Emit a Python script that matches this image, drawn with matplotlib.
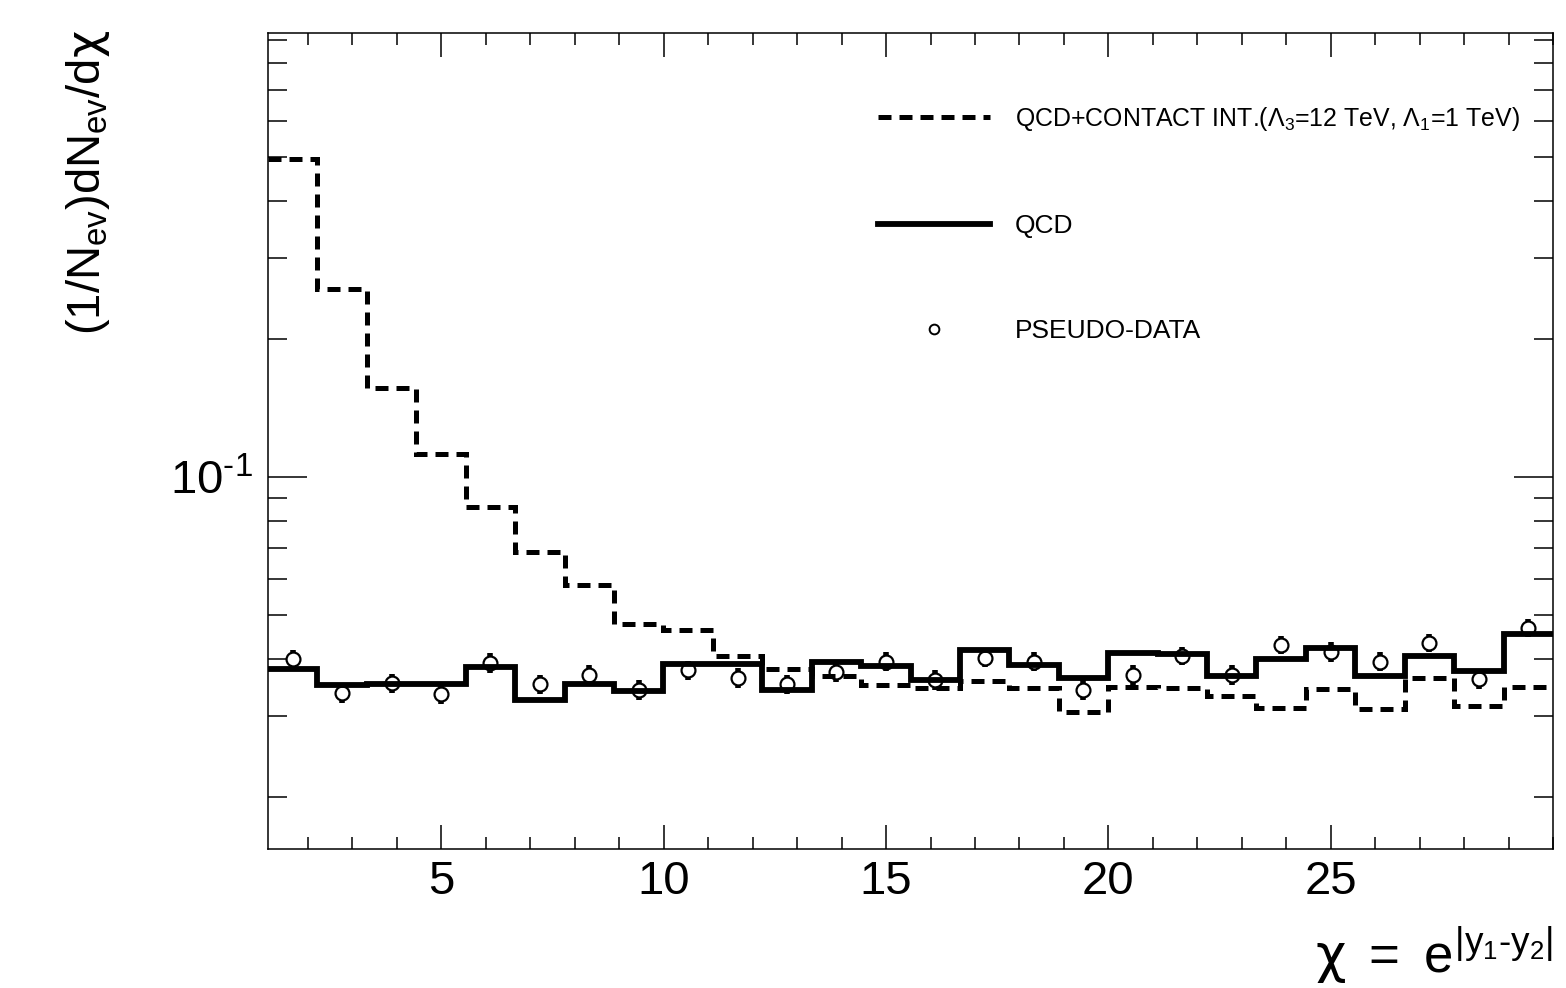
import numpy as np
import matplotlib
matplotlib.use("Agg")
import matplotlib.pyplot as plt
from matplotlib.lines import Line2D
from matplotlib.ticker import MultipleLocator, FixedLocator, FixedFormatter, LogLocator, NullFormatter

plt.rcParams["font.family"] = ["Liberation Sans", "DejaVu Sans"]
plt.rcParams["mathtext.fontset"] = "custom"
plt.rcParams["mathtext.rm"] = "Liberation Sans"
plt.rcParams["mathtext.it"] = "Liberation Sans"
plt.rcParams["mathtext.bf"] = "Liberation Sans:bold"
plt.rcParams["mathtext.sf"] = "DejaVu Sans"

# 26 bins in chi = exp(|y1 - y2|)
chi_edges = [1.100, 2.212, 3.323, 4.435, 5.546, 6.658, 7.769, 8.881, 9.992,
             11.104, 12.215, 13.327, 14.438, 15.550, 16.662, 17.773, 18.885,
             19.996, 21.108, 22.219, 23.331, 24.442, 25.554, 26.665, 27.777,
             28.888, 30.000]

# QCD + contact interaction (dashed)
qcd_ci = [0.495, 0.257, 0.156, 0.112, 0.0860, 0.0686, 0.0581, 0.0478, 0.0463,
          0.0407, 0.0381, 0.0368, 0.0351, 0.0346, 0.0359, 0.0346, 0.0307,
          0.0348, 0.0346, 0.0332, 0.0313, 0.0344, 0.0311, 0.0364, 0.0316,
          0.0348]

# QCD only (solid)
qcd = [0.0381, 0.0351, 0.0353, 0.0353, 0.0385, 0.0326, 0.0353, 0.0341, 0.0390,
       0.0390, 0.0343, 0.0395, 0.0387, 0.0360, 0.0419, 0.0389, 0.0364, 0.0413,
       0.0411, 0.0368, 0.0400, 0.0423, 0.0368, 0.0407, 0.0377, 0.0454]

# pseudo-data
pseudo = [0.0400, 0.0338, 0.0355, 0.0336, 0.0393, 0.0353, 0.0370, 0.0343,
          0.0379, 0.0364, 0.0353, 0.0375, 0.0395, 0.0360, 0.0403, 0.0395,
          0.0343, 0.0370, 0.0407, 0.0370, 0.0430, 0.0415, 0.0395, 0.0434,
          0.0362, 0.0468]
pseudo_err = [0.0019, 0.0017, 0.0017, 0.0017, 0.0019, 0.0017, 0.0018, 0.0017,
              0.0018, 0.0018, 0.0017, 0.0018, 0.0019, 0.0018, 0.0019, 0.0019,
              0.0017, 0.0018, 0.0019, 0.0018, 0.0020, 0.0020, 0.0019, 0.0020,
              0.0018, 0.0021]

edges = np.array(chi_edges)
centers = 0.5 * (edges[:-1] + edges[1:])

fig = plt.figure(figsize=(15.66, 9.88), dpi=100)
ax = fig.add_axes([268 / 1566, 1 - 849 / 988, 1285 / 1566, 816 / 988])

ax.errorbar(centers, pseudo, yerr=pseudo_err, fmt="o", ms=10, mfc="white",
            mec="black", mew=1.6, ecolor="black", elinewidth=4.0, capsize=0,
            zorder=2)
ax.stairs(qcd_ci, edges, baseline=None, color="black", lw=3.6,
          linestyle=(0, (2.6, 1.6)), zorder=3)
ax.stairs(qcd, edges, baseline=None, color="black", lw=4.2, zorder=3)

ax.set_yscale("log")
ax.set_xlim(1.1, 30.0)
ax.set_ylim(0.0154, 0.932)

ax.xaxis.set_major_locator(FixedLocator([5, 10, 15, 20, 25]))
ax.xaxis.set_minor_locator(MultipleLocator(1))
ax.yaxis.set_major_locator(FixedLocator([0.1]))
ax.yaxis.set_major_formatter(FixedFormatter([r"$10^{\text{-}1}$"]))
ax.yaxis.set_minor_locator(LogLocator(base=10, subs=np.arange(2, 10), numticks=20))
ax.yaxis.set_minor_formatter(NullFormatter())

ax.tick_params(axis="both", which="both", direction="in", top=True, right=True,
               width=1.1, colors="black")
ax.tick_params(axis="x", which="major", length=17, labelsize=34, pad=8)
ax.tick_params(axis="x", which="minor", length=8.6)
ax.tick_params(axis="y", which="major", length=28, labelsize=34, pad=11)
ax.tick_params(axis="y", which="minor", length=14)
for s in ax.spines.values():
    s.set_linewidth(1.1)

fig.text(88 / 1566, 1 - 30 / 988, r"$(1/N_{ev})dN_{ev}/d\mathsf{\chi}$", rotation=90,
         ha="center", va="top", fontsize=34)
fig.text(1553 / 1566, 0.002, r"$\mathsf{\chi}\ =\ e^{|y_{1}\text{-}y_{2}|}$",
         ha="right", va="bottom", fontsize=38)

handles = [
    Line2D([0], [0], color="black", lw=3.6, linestyle=(0, (2.6, 1.6))),
    Line2D([0], [0], color="black", lw=4.2),
    Line2D([0], [0], marker="o", ls="none", ms=7, mfc="white", mec="black", mew=1.4),
]
labels = [
    r"QCD+CONTACT INT.($\Lambda_3$=12 TeV, $\Lambda_1$=1 TeV)",
    "QCD",
    "PSEUDO-DATA",
]
leg = ax.legend(handles, labels, loc="upper left", bbox_to_anchor=(0.4747, 0.912),
                frameon=False, borderpad=0, borderaxespad=0, handlelength=4.24,
                handletextpad=0.95, labelspacing=3.08,
                prop={"family": ["Liberation Sans"], "size": 19})
leg.get_texts()[0].set_fontsize(17.9)

fig.savefig("out.png", dpi=100)
